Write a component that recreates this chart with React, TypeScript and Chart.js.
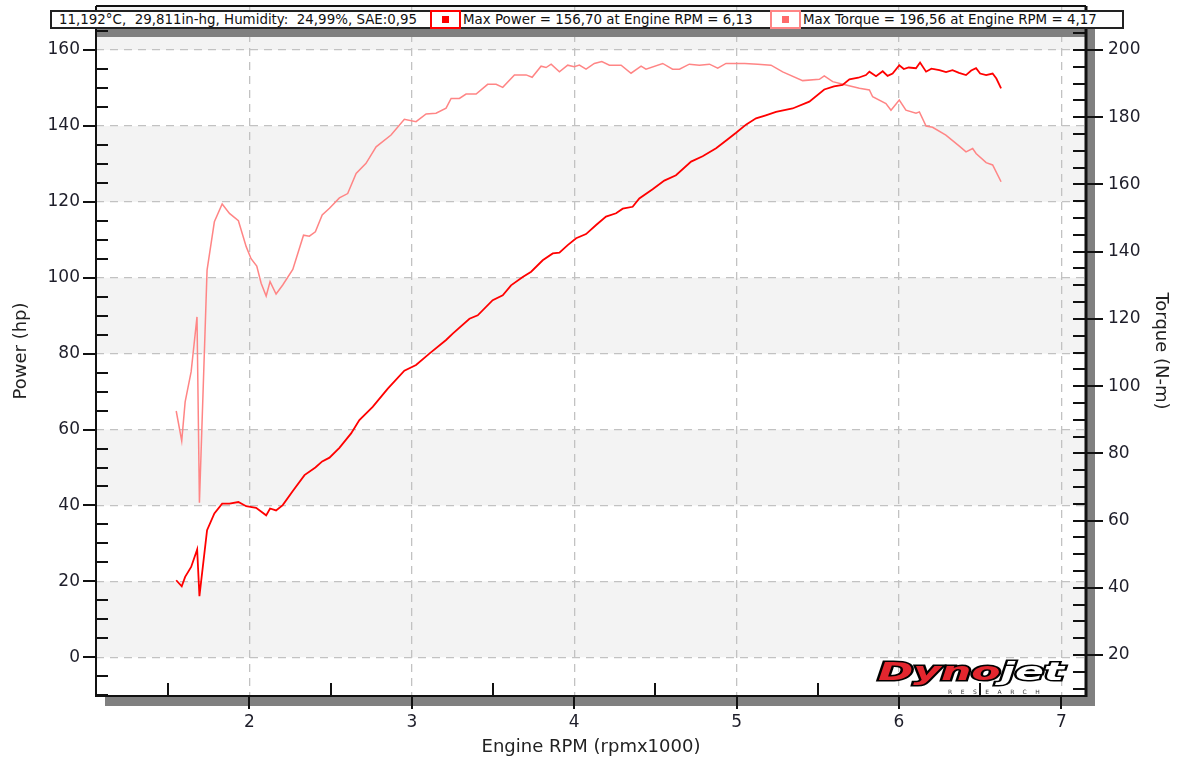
import React, { useEffect, useRef } from "react";
import { Chart, registerables } from "chart.js";
Chart.register(...registerables);

// ---- data ----
const powerRpm = [1.549, 1.583, 1.604, 1.641, 1.678, 1.692, 1.739, 1.784, 1.832, 1.877, 1.932, 1.98, 2.041, 2.103, 2.127, 2.164, 2.205, 2.267, 2.339, 2.406, 2.448, 2.493, 2.554, 2.626, 2.677, 2.759, 2.852, 2.954, 3.026, 3.108, 3.211, 3.252, 3.355, 3.406, 3.498, 3.56, 3.611, 3.683, 3.735, 3.806, 3.868, 3.909, 3.96, 4.012, 4.073, 4.135, 4.196, 4.258, 4.299, 4.36, 4.401, 4.483, 4.555, 4.627, 4.72, 4.791, 4.874, 4.94, 4.997, 5.06, 5.12, 5.18, 5.243, 5.345, 5.448, 5.54, 5.6, 5.653, 5.695, 5.75, 5.797, 5.818, 5.859, 5.9, 5.93, 5.961, 6.002, 6.03, 6.06, 6.105, 6.13, 6.167, 6.2, 6.249, 6.29, 6.33, 6.37, 6.413, 6.445, 6.475, 6.5, 6.537, 6.577, 6.6, 6.629];
const powerHp = [20.3, 18.7, 21.2, 23.8, 28.4, 16.1, 33.5, 37.9, 40.5, 40.5, 40.9, 39.8, 39.4, 37.4, 39.2, 38.7, 40.1, 43.8, 48, 50, 51.6, 52.6, 55.2, 59, 62.5, 66, 70.8, 75.5, 77, 80, 83.6, 85.3, 89.2, 90.1, 94.1, 95.4, 98, 100.2, 101.6, 104.6, 106.4, 106.6, 108.6, 110.4, 111.5, 113.9, 116.1, 117, 118.2, 118.7, 120.9, 123.3, 125.6, 127, 130.6, 132, 134.1, 136.3, 138.2, 140.4, 142, 142.8, 143.7, 144.6, 146.4, 149.6, 150.4, 150.8, 152.3, 152.7, 153.4, 154.3, 153.1, 154.4, 153.2, 153.8, 156, 155, 155.4, 155.2, 156.7, 154.3, 155.1, 154.7, 154.2, 154.7, 154.0, 153.4, 154.6, 155.2, 153.8, 153.4, 153.8, 152.5, 149.9];

const torqueRpm = [1.549, 1.583, 1.604, 1.641, 1.677, 1.692, 1.739, 1.784, 1.832, 1.877, 1.932, 1.98, 2.01, 2.045, 2.072, 2.103, 2.127, 2.164, 2.205, 2.267, 2.333, 2.369, 2.406, 2.448, 2.493, 2.554, 2.605, 2.657, 2.718, 2.78, 2.872, 2.954, 3.026, 3.088, 3.149, 3.211, 3.242, 3.293, 3.334, 3.396, 3.467, 3.519, 3.56, 3.632, 3.704, 3.741, 3.796, 3.827, 3.858, 3.909, 3.96, 4.0, 4.032, 4.073, 4.124, 4.17, 4.217, 4.289, 4.35, 4.412, 4.442, 4.545, 4.606, 4.648, 4.709, 4.771, 4.833, 4.884, 4.935, 4.976, 5.05, 5.13, 5.212, 5.284, 5.407, 5.51, 5.54, 5.592, 5.674, 5.756, 5.818, 5.838, 5.92, 5.951, 6.002, 6.043, 6.105, 6.126, 6.167, 6.207, 6.289, 6.372, 6.413, 6.454, 6.475, 6.537, 6.577, 6.629];
const torqueNm = [92.6, 83.7, 95.3, 104.3, 120.6, 65.3, 134.5, 148.9, 154.2, 151.4, 149.2, 141.5, 137.9, 135.7, 130.6, 126.8, 131.1, 127.4, 130.1, 134.7, 144.9, 144.6, 145.9, 150.9, 152.9, 156, 157.3, 163.3, 166.3, 171.2, 174.7, 179.4, 178.7, 181, 181.2, 182.7, 185.6, 185.6, 186.9, 186.9, 189.8, 189.8, 188.9, 192.6, 192.6, 191.9, 195.2, 194.8, 195.8, 193.5, 195.5, 195, 195.5, 194.3, 196, 196.56, 195.5, 195.5, 193.1, 195.2, 194.3, 196, 194.3, 194.3, 195.8, 195.5, 195.8, 194.6, 196, 196, 196, 195.8, 195.5, 193.5, 190.9, 191.3, 192.3, 190.6, 189.6, 188.6, 188.1, 186.1, 184.1, 182.1, 185.1, 182.1, 181.2, 181.6, 177.4, 177, 174.7, 171.4, 169.7, 170.7, 169.2, 166.5, 165.8, 160.8];

const rpmTicks = [2, 3, 4, 5, 6, 7];
const hpTicks = [0, 20, 40, 60, 80, 100, 120, 140, 160];
const nmTicks = [20, 40, 60, 80, 100, 120, 140, 160, 180, 200];
const hpMinorStep = 5;
const nmMinorStep = 5;
const rpmMinorStep = 0.5;

const infoText = "11,192°C,  29,811in-hg, Humidity:  24,99%, SAE:0,95";
const powerLegend = "Max Power = 156,70 at Engine RPM = 6,13";
const torqueLegend = "Max Torque = 196,56 at Engine RPM = 4,17";
const xTitle = "Engine RPM (rpmx1000)";
const yTitle = "Power (hp)";
const y1Title = "Torque (N-m)";

const POWER_COLOR = "#ff0000";
const TORQUE_COLOR = "#ff8585";
const FONT = "'DejaVu Sans', Verdana, sans-serif";

const framePlugin = {
  id: "dynoFrame",
  beforeDraw(chart: any) {
    const { ctx, chartArea: a, scales } = chart;
    const y = scales.y;
    ctx.save();
    ctx.fillStyle = "#ffffff";
    ctx.fillRect(0, 0, chart.width, chart.height);
    ctx.beginPath();
    ctx.rect(a.left, a.top, a.right - a.left, a.bottom - a.top);
    ctx.clip();
    ctx.fillStyle = "#f3f3f3";
    hpTicks.forEach((v, i) => {
      if (i % 2 !== 0) return;
      const p0 = y.getPixelForValue(v);
      const p1 = y.getPixelForValue(v + (hpTicks[1] - hpTicks[0]));
      ctx.fillRect(a.left, p1, a.right - a.left, p0 - p1);
    });
    ctx.restore();
  },
  afterDraw(chart: any) {
    const { ctx, chartArea: a, scales } = chart;
    const x = scales.x, y = scales.y, y1 = scales.y1;
    ctx.save();
    // shadows
    ctx.fillStyle = "#808080";
    ctx.fillRect(a.right + 1, a.top + 8, 8, a.bottom - a.top + 2);
    ctx.fillRect(a.left + 9, a.bottom + 1, a.right - a.left, 9);
    // legend shadow falling on the plot
    ctx.fillRect(a.left, 29, a.right - a.left + 9, 8);

    ctx.strokeStyle = "#111111";
    // frame
    ctx.lineWidth = 2;
    ctx.beginPath();
    ctx.moveTo(a.left, a.top); ctx.lineTo(a.left, a.bottom + 1);
    ctx.moveTo(a.left - 1, a.bottom); ctx.lineTo(a.right, a.bottom);
    ctx.moveTo(a.left, a.top); ctx.lineTo(a.right, a.top);
    ctx.stroke();
    ctx.lineWidth = 3;
    ctx.beginPath();
    ctx.moveTo(a.right, a.top); ctx.lineTo(a.right, a.bottom + 1);
    ctx.stroke();

    ctx.lineWidth = 2;
    ctx.beginPath();
    // left axis ticks
    for (let v = Math.ceil(y.min / hpMinorStep) * hpMinorStep; v <= y.max; v += hpMinorStep) {
      const p = Math.round(y.getPixelForValue(v));
      if (p < a.top || p > a.bottom) continue;
      if (hpTicks.includes(v)) { ctx.moveTo(a.left - 13, p); ctx.lineTo(a.left, p); }
      else { ctx.moveTo(a.left, p); ctx.lineTo(a.left + 12, p); }
    }
    // right axis ticks
    for (let v = Math.ceil(y1.min / nmMinorStep) * nmMinorStep; v <= y1.max; v += nmMinorStep) {
      const p = Math.round(y1.getPixelForValue(v));
      if (p < a.top || p > a.bottom) continue;
      if (nmTicks.includes(v)) { ctx.moveTo(a.right - 13, p); ctx.lineTo(a.right + 17, p); }
      else { ctx.moveTo(a.right - 13, p); ctx.lineTo(a.right, p); }
    }
    // bottom axis ticks
    for (let v = Math.ceil(x.min / rpmMinorStep) * rpmMinorStep; v <= x.max; v += rpmMinorStep) {
      const p = Math.round(x.getPixelForValue(v));
      if (rpmTicks.includes(v)) { ctx.moveTo(p, a.bottom); ctx.lineTo(p, a.bottom + 13); }
      else { ctx.moveTo(p, a.bottom - 13); ctx.lineTo(p, a.bottom); }
    }
    ctx.stroke();
    ctx.restore();
  },
};

export default function App() {
  const ref = useRef<HTMLCanvasElement>(null);
  useEffect(() => {
    if (!ref.current) return;
    const gridBase = { color: "#c2c2c2", lineWidth: 1.3, drawTicks: false };
    const tickFont = { family: FONT, size: 17 };
    const titleFont = { family: FONT, size: 18 };
    const fitV = (w: number) => (s: any) => { s.width = w; s.paddingTop = 0; s.paddingBottom = 0; };
    const chart = new Chart(ref.current, {
      type: "line",
      data: {
        datasets: [
          {
            label: "Power",
            data: powerRpm.map((r, i) => ({ x: r, y: powerHp[i] })),
            yAxisID: "y",
            borderColor: POWER_COLOR,
            borderWidth: 1.8,
            pointRadius: 0,
            tension: 0,
            order: 1,
          },
          {
            label: "Torque",
            data: torqueRpm.map((r, i) => ({ x: r, y: torqueNm[i] })),
            yAxisID: "y1",
            borderColor: TORQUE_COLOR,
            borderWidth: 1.5,
            pointRadius: 0,
            tension: 0,
            order: 2,
          },
        ],
      },
      options: {
        animation: false,
        responsive: false,
        devicePixelRatio: 1,
        layout: { padding: { top: 6, left: 0, right: 0, bottom: 0 } },
        plugins: { legend: { display: false }, tooltip: { enabled: false } },
        scales: {
          x: {
            type: "linear",
            min: 1.055,
            max: 7.152,
            grid: { ...gridBase },
            border: { display: false, dash: [8, 6] },
            afterBuildTicks: (s: any) => { s.ticks = rpmTicks.map((v) => ({ value: v })); },
            afterFit: (s: any) => { s.height = 68; s.paddingLeft = 0; s.paddingRight = 0; },
            ticks: { font: tickFont, color: "#1e1e2a", padding: 16, maxRotation: 0, autoSkip: false },
            title: { display: true, text: xTitle, font: titleFont, color: "#222", padding: { top: 0, bottom: 6 } },
          },
          y: {
            type: "linear",
            position: "left",
            min: -10.2,
            max: 171.6,
            grid: { ...gridBase },
            border: { display: false, dash: [8, 6] },
            afterBuildTicks: (s: any) => { s.ticks = hpTicks.map((v) => ({ value: v })); },
            afterFit: fitV(96),
            ticks: { font: tickFont, color: "#1e1e2a", padding: 16, autoSkip: false },
            title: { display: true, text: yTitle, font: titleFont, color: "#222", padding: { top: 11, bottom: 0 } },
          },
          y1: {
            type: "linear",
            position: "right",
            min: 7.8,
            max: 213.1,
            grid: { display: false, drawTicks: false },
            border: { display: false },
            afterBuildTicks: (s: any) => { s.ticks = nmTicks.map((v) => ({ value: v })); },
            afterFit: fitV(94),
            ticks: { font: tickFont, color: "#1e1e2a", padding: 22, autoSkip: false },
            title: { display: true, text: y1Title, font: titleFont, color: "#222", padding: { top: 9, bottom: 0 } },
          },
        },
      },
      plugins: [framePlugin],
    } as any);
    return () => chart.destroy();
  }, []);

  const legendText: React.CSSProperties = {
    position: "absolute",
    top: 11,
    fontFamily: FONT,
    fontSize: 13.4,
    lineHeight: "17px",
    whiteSpace: "pre",
    color: "#111",
  };
  const markerBox = (left: number, color: string, fill: string) => (
    <div
      style={{
        position: "absolute",
        left,
        top: 10,
        width: 31,
        height: 19,
        boxSizing: "border-box",
        border: `2px solid ${color}`,
        background: "#fff",
      }}
    >
      <div style={{ position: "absolute", left: 10, top: 4, width: 7, height: 7, background: fill }} />
    </div>
  );

  return (
    <div style={{ position: "absolute", left: 0, top: 0, width: 1180, height: 764, background: "#fff" }}>
      <canvas ref={ref} width={1180} height={764} style={{ position: "absolute", left: 0, top: 0 }} />
      <div
        style={{
          position: "absolute",
          left: 50,
          top: 10,
          width: 1074,
          height: 19,
          boxSizing: "border-box",
          border: "2px solid #222",
          background: "#fff",
        }}
      />
      <span style={{ ...legendText, left: 59 }}>{infoText}</span>
      {markerBox(430, POWER_COLOR, POWER_COLOR)}
      <span style={{ ...legendText, left: 463 }}>{powerLegend}</span>
      {markerBox(770, TORQUE_COLOR, "#ff6a6a")}
      <span style={{ ...legendText, left: 803 }}>{torqueLegend}</span>

      <div
        style={{
          position: "absolute",
          left: 878,
          top: 659,
          fontFamily: FONT,
          fontSize: 25,
          fontWeight: "bold",
          fontStyle: "italic",
          lineHeight: "25px",
          whiteSpace: "pre",
          transform: "scaleX(1.7)",
          transformOrigin: "left top",
          WebkitTextStroke: "3px #000",
          paintOrder: "stroke fill",
        } as any}
      >
        <span style={{ color: "#e3262e" }}>Dyno</span>
        <span style={{ color: "#ffffff" }}>jet</span>
      </div>
      <div
        style={{
          position: "absolute",
          left: 948,
          top: 688,
          fontFamily: FONT,
          fontSize: 6,
          lineHeight: "7px",
          letterSpacing: "8.5px",
          color: "#333",
          whiteSpace: "pre",
        }}
      >
        RESEARCH
      </div>
    </div>
  );
}
